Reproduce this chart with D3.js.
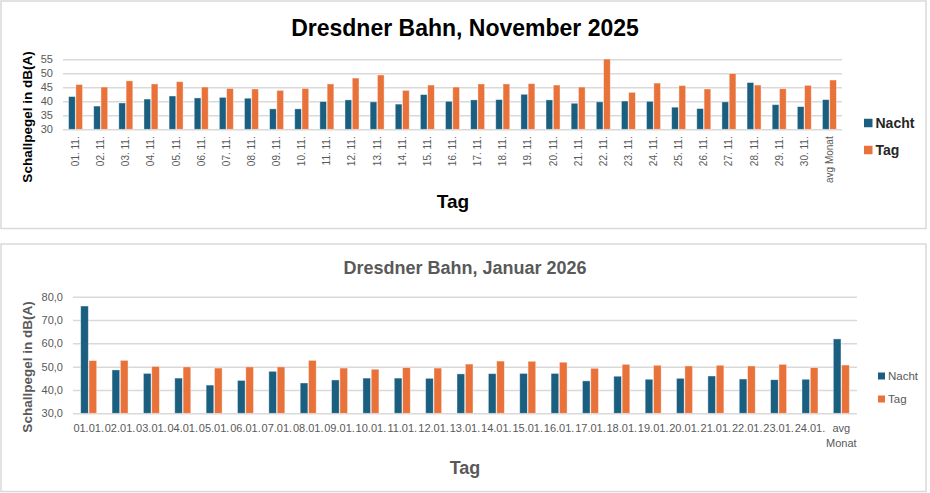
<!DOCTYPE html>
<html>
<head>
<meta charset="utf-8">
<script src="https://cdn.jsdelivr.net/npm/d3@7"></script>
<style>
  body { margin: 0; background: #fff; }
  svg { display: block; font-family: "Liberation Sans", Arial, sans-serif; }
</style>
</head>
<body>
<svg id="chart"></svg>
<script>
var width = 930;
var height = 493;

var series = ["Nacht", "Tag"];
var colors = ["#1b5f80", "#e8723a"];

// November 2025
var novDays = ["01. 11.","02. 11.","03. 11.","04. 11.","05. 11.","06. 11.","07. 11.","08. 11.","09. 11.","10. 11.",
  "11. 11.","12. 11.","13. 11.","14. 11.","15. 11.","16. 11.","17. 11.","18. 11.","19. 11.","20. 11.",
  "21. 11.","22. 11.","23. 11.","24. 11.","25. 11.","26. 11.","27. 11.","28. 11.","29. 11.","30. 11.","avg Monat"];
var novNacht = [41.7,38.3,39.4,40.8,41.9,41.2,41.4,41.1,37.3,37.3,
  39.9,40.5,39.8,39.0,42.4,40.0,40.5,40.6,42.5,40.5,
  39.3,39.8,40.1,40.0,37.9,37.4,39.8,46.7,38.8,38.1,40.6];
var novTag = [46.0,45.1,47.3,46.2,47.0,45.1,44.6,44.4,43.9,44.6,
  46.2,48.3,49.4,43.9,45.8,45.1,46.2,46.2,46.3,45.8,
  45.1,55.1,43.2,46.5,45.6,44.4,49.9,45.8,44.5,45.7,47.6];
var novTicks = [30,35,40,45,50,55];

// Januar 2026
var janDays = ["01.01.","02.01.","03.01.","04.01.","05.01.","06.01.","07.01.","08.01.","09.01.","10.01.",
  "11.01.","12.01.","13.01.","14.01.","15.01.","16.01.","17.01.","18.01.","19.01.","20.01.",
  "21.01.","22.01.","23.01.","24.01.","avg Monat"];
var janNacht = [76.0,48.6,47.1,45.1,42.1,44.1,48.0,43.0,44.3,45.1,
  45.1,45.0,46.9,47.0,47.1,47.1,43.9,45.9,44.6,45.0,
  46.0,44.7,44.4,44.6,61.9];
var janTag = [52.6,52.7,50.1,49.9,49.4,49.9,49.9,52.7,49.4,48.9,
  49.6,49.4,51.1,52.4,52.3,51.9,49.3,51.0,50.6,50.3,
  50.6,50.3,51.0,49.6,50.7];
var janTicks = [30,40,50,60,70,80];

var svg = d3.select('#chart')
  .attr('width', width)
  .attr('height', height);

function drawChart(cfg){
  var g = svg.append('g');

  g.append('rect')
    .attr('x', cfg.box[0]).attr('y', cfg.box[1])
    .attr('width', cfg.box[2]).attr('height', cfg.box[3])
    .attr('fill', '#fff').attr('stroke', '#d9d9d9').attr('stroke-width', 1.5);

  var x = d3.scaleBand().domain(cfg.days).range([cfg.left, cfg.right]).paddingInner(0).paddingOuter(0);
  var x1 = d3.scaleBand().domain(series).range([0, cfg.barGroup]).paddingInner(0.08);
  var y = d3.scaleLinear().domain(cfg.domain).range([cfg.bottom, cfg.top]);

  // gridlines
  var yAxis = g.append('g')
    .attr('transform', 'translate(' + cfg.left + ',0)')
    .call(d3.axisLeft(y).tickValues(cfg.ticks).tickSize(-(cfg.right - cfg.left)).tickPadding(cfg.tickPad).tickFormat(cfg.fmt));
  yAxis.select('.domain').remove();
  yAxis.selectAll('line').attr('stroke', '#d9d9d9').attr('stroke-width', 1.5);
  yAxis.selectAll('text').attr('fill', '#595959').attr('font-size', cfg.tickSize);

  var rows = cfg.days.map(function(d, i){ return {day: d, vals: [cfg.nacht[i], cfg.tag[i]]}; });

  var grp = g.selectAll('.day').data(rows).enter().append('g')
    .attr('transform', function(d){ return 'translate(' + (x(d.day) + (x.bandwidth() - cfg.barGroup) / 2) + ',0)'; });
  grp.selectAll('rect').data(function(d){ return d.vals.map(function(v, j){ return {s: series[j], v: v, j: j}; }); })
    .enter().append('rect')
    .attr('x', function(d){ return x1(d.s); })
    .attr('width', x1.bandwidth())
    .attr('y', function(d){ return y(d.v); })
    .attr('height', function(d){ return cfg.bottom - y(d.v); })
    .attr('fill', function(d){ return colors[d.j]; })
    .attr('stroke', '#fff').attr('stroke-opacity', 0.5).attr('stroke-width', 0.8);

  // x labels
  var xl = g.append('g').selectAll('text').data(cfg.days).enter().append('text')
    .attr('fill', '#595959').attr('font-size', cfg.xSize);
  if (cfg.rotate){
    xl.attr('transform', function(d){ return 'translate(' + (x(d) + x.bandwidth() / 2) + ',' + (cfg.bottom + 7) + ') rotate(-90)'; })
      .attr('text-anchor', 'end').attr('dy', '0.35em')
      .text(function(d){ return d; });
  } else {
    xl.attr('text-anchor', 'middle')
      .attr('x', function(d){ return x(d) + x.bandwidth() / 2; })
      .attr('y', cfg.bottom + 19)
      .each(function(d){
        var parts = d.split(' ');
        var t = d3.select(this);
        parts.forEach(function(p, k){
          t.append('tspan').attr('x', x(d) + x.bandwidth() / 2).attr('dy', k ? '1.35em' : 0).text(p);
        });
      });
  }

  // titles
  g.append('text').attr('x', cfg.titlePos[0]).attr('y', cfg.titlePos[1])
    .attr('text-anchor', 'middle').attr('font-weight', 'bold').attr('font-size', cfg.titleSize)
    .attr('fill', cfg.textColor).text(cfg.title);
  g.append('text').attr('x', cfg.xTitlePos[0]).attr('y', cfg.xTitlePos[1])
    .attr('text-anchor', 'middle').attr('font-weight', 'bold').attr('font-size', cfg.xTitleSize)
    .attr('fill', cfg.textColor).text('Tag');
  g.append('text')
    .attr('transform', 'translate(' + cfg.yTitlePos[0] + ',' + cfg.yTitlePos[1] + ') rotate(-90)')
    .attr('text-anchor', 'middle').attr('font-weight', 'bold').attr('font-size', cfg.yTitleSize)
    .attr('fill', cfg.textColor).text('Schallpegel in dB(A)');

  // legend
  var lg = g.selectAll('.leg').data(series).enter().append('g')
    .attr('transform', function(d, i){ return 'translate(' + cfg.legend[0] + ',' + (cfg.legend[1] + i * cfg.legend[2]) + ')'; });
  lg.append('rect').attr('x', 0).attr('y', -cfg.legSq / 2).attr('width', cfg.legSq).attr('height', cfg.legSq)
    .attr('fill', function(d, i){ return colors[i]; });
  lg.append('text').attr('x', cfg.legSq + 3).attr('dy', '0.36em')
    .attr('font-size', cfg.legSize).attr('font-weight', cfg.legWeight)
    .attr('fill', cfg.legColor).text(function(d){ return d; });
}

drawChart({
  box: [1, 1, 925, 227.5],
  days: novDays, nacht: novNacht, tag: novTag, ticks: novTicks, domain: [30, 55],
  left: 63, right: 842, top: 59.3, bottom: 129.3, barGroup: 14,
  fmt: d3.format('d'), tickPad: 10, tickSize: 11,
  rotate: true, xSize: 10,
  title: 'Dresdner Bahn, November 2025', titlePos: [465, 36], titleSize: 23,
  xTitlePos: [453, 208], xTitleSize: 19,
  yTitlePos: [32, 117], yTitleSize: 13.5,
  textColor: '#000',
  legend: [864, 123, 27], legSq: 8.5, legSize: 14, legWeight: 'bold', legColor: '#262626'
});

drawChart({
  box: [1, 244, 925, 247.5],
  days: janDays, nacht: janNacht, tag: janTag, ticks: janTicks, domain: [30, 80],
  left: 73, right: 857, top: 296.7, bottom: 413.3, barGroup: 16,
  fmt: d3.format('.1f'), tickPad: 10, tickSize: 11,
  rotate: false, xSize: 11,
  title: 'Dresdner Bahn, Januar 2026', titlePos: [465, 274], titleSize: 18,
  xTitlePos: [465, 474], xTitleSize: 18,
  yTitlePos: [32, 367], yTitleSize: 13.5,
  textColor: '#595959',
  legend: [878, 376, 23], legSq: 7, legSize: 11.5, legWeight: 'normal', legColor: '#595959'
});

// German decimal comma on the lower chart ticks
svg.selectAll('g.tick text').each(function(){
  var t = d3.select(this);
  t.text(t.text().replace('.', ','));
});
</script>
</body>
</html>
